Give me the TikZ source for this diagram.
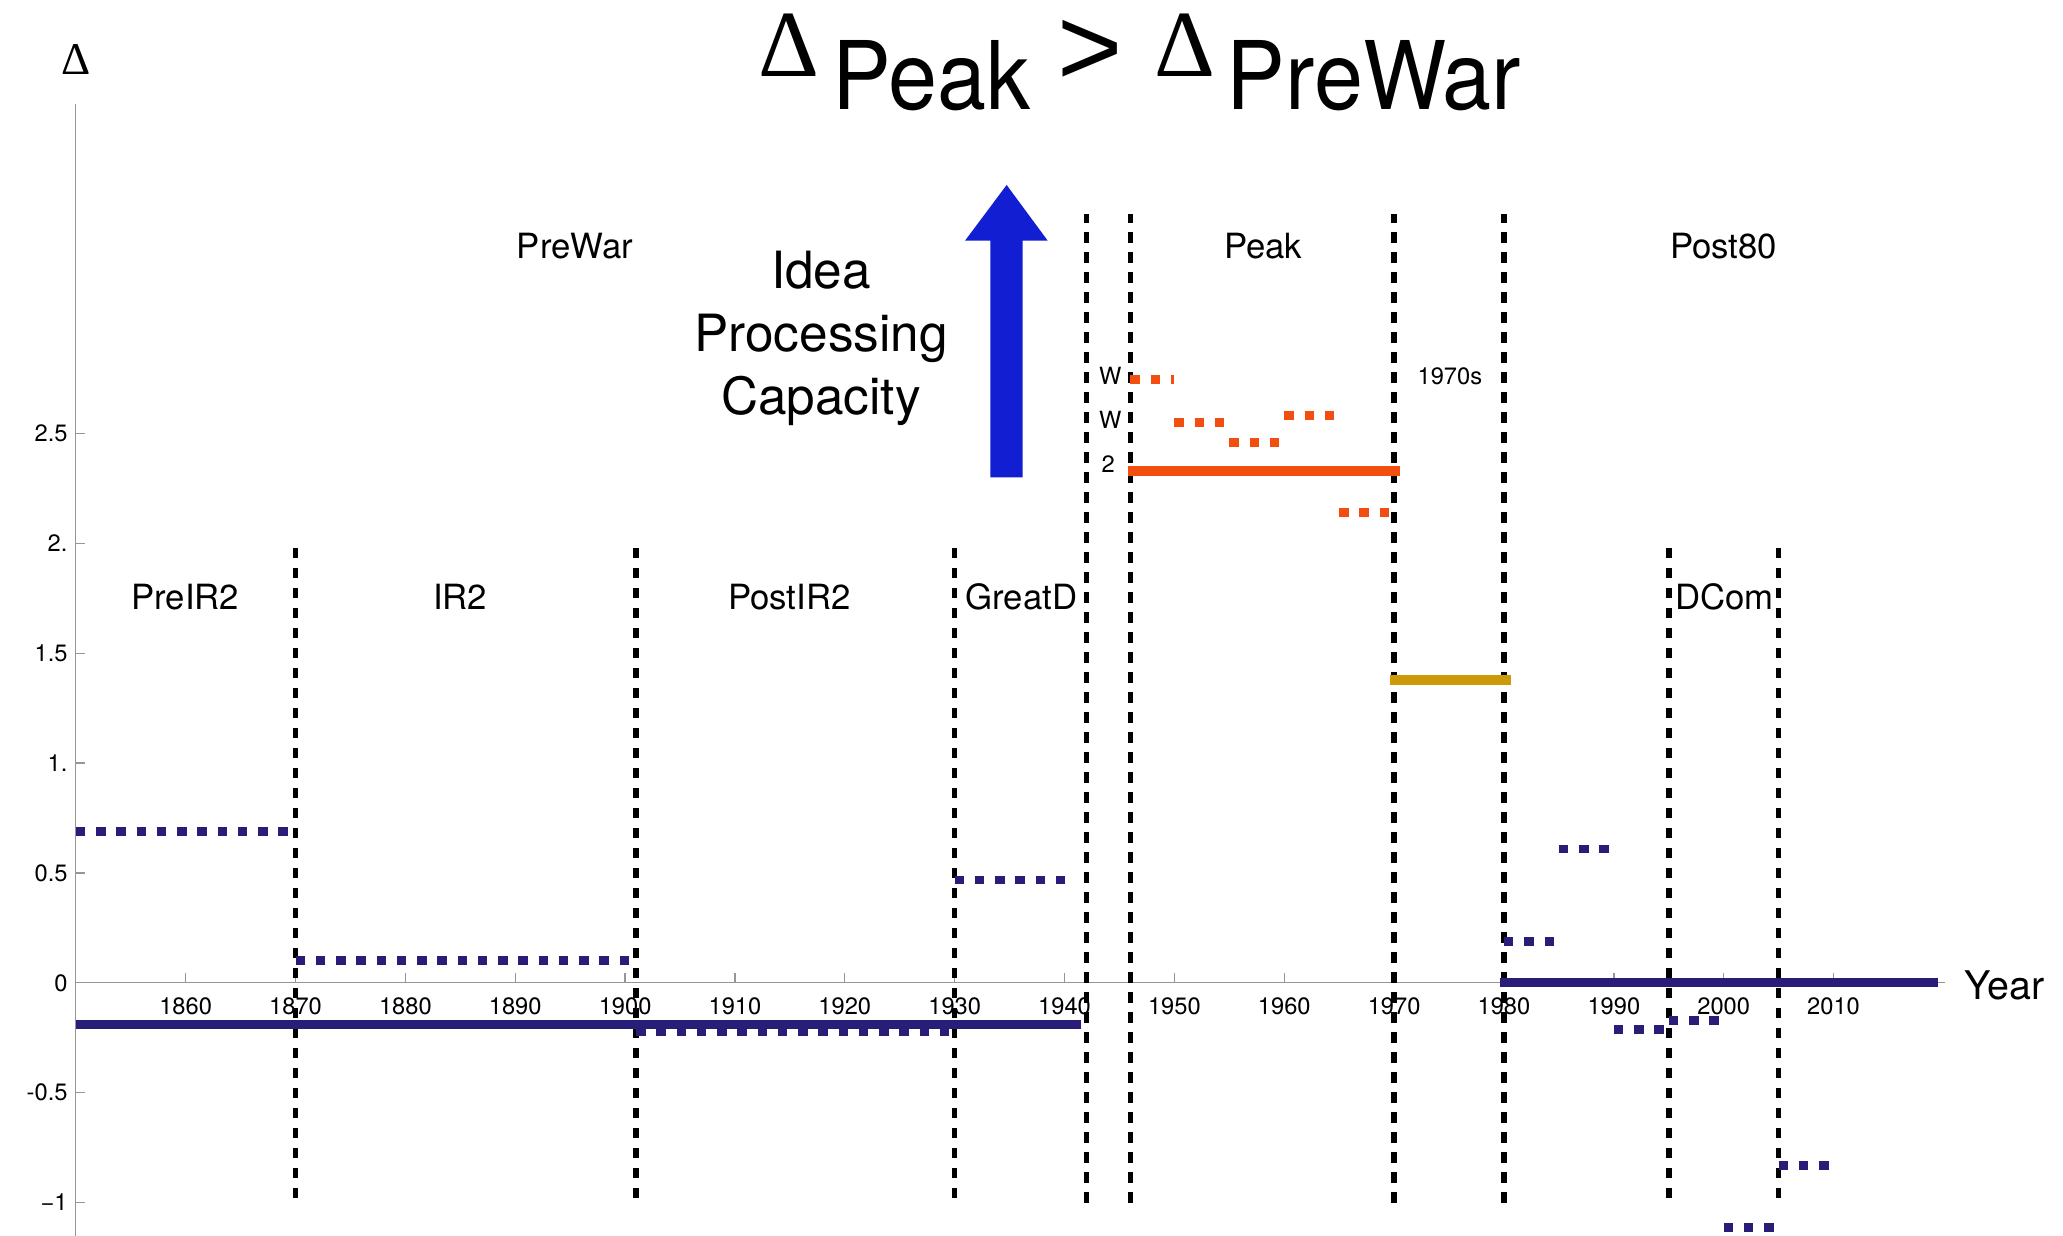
\documentclass[tikz,border=0pt]{standalone}
\usepackage{fontspec}
\setmainfont{TeX Gyre Heros}
\newfontfamily\deltafont{Liberation Serif}
\newfontfamily\gtfont{Liberation Sans}
\usepackage{graphicx}
\definecolor{navy}{RGB}{40,30,120}
\definecolor{orng}{RGB}{242,78,16}
\definecolor{gold}{RGB}{204,153,8}
\definecolor{arrowblue}{RGB}{17,30,210}
\definecolor{axisgray}{RGB}{150,150,150}
\begin{document}
\begin{tikzpicture}[x=1pt,y=-1pt,
  regime/.style={black, line width=4.2pt, dash pattern=on 8pt off 7.2pt},
  dotseg/.style={line width=6.8pt, dash pattern=on 7.2pt off 8.2pt},
  solidseg/.style={line width=7pt},
  axisline/.style={draw=axisgray, line width=1pt},
  ticklab/.style={font=\fontsize{18}{20}\selectfont, inner sep=0pt},
  reglab/.style={font=\fontsize{26.4}{30}\selectfont, inner sep=0pt, anchor=base},
  smalllab/.style={font=\fontsize{18}{20}\selectfont, inner sep=0pt, anchor=base},
  titlelab/.style={font=\fontsize{72}{80}\selectfont, inner sep=0pt, anchor=base},
  deltalab/.style={font=\deltafont\fontsize{72}{80}\selectfont, inner sep=0pt, anchor=base},
  idealab/.style={font=\fontsize{39}{44}\selectfont, inner sep=0pt, anchor=base},
]
\useasboundingbox (0,0) rectangle (1568,939);
\fill[white] (0,0) rectangle (1568,939);

% title
\node[deltalab] (d1) at (599.8,58.3) {Δ};
\node[titlelab] (tpeak) at (707.9,83.6) {\scalebox{0.93}[1]{Peak}};
\node[inner sep=0pt, anchor=center, font=\gtfont\fontsize{85}{90}\selectfont] (tgt) at (828.5,40) {>};
\node[deltalab] (d2) at (900.8,58.3) {Δ};
\node[titlelab] (tprewar) at (1044.2,83.6) {\scalebox{0.93}[1]{PreWar}};

% idea processing capacity
\node[idealab] (idea1) at (624,219) {Idea};
\node[idealab] (idea2) at (624,267.3) {Processing};
\node[idealab] (idea3) at (624,315.4) {Capacity};

% blue arrow
\fill[arrowblue] (752.7,362.8) -- (752.7,182.9) -- (733.5,182.9) -- (765.1,140.6)
  -- (796.3,182.9) -- (777.3,182.9) -- (777.3,362.8) -- cycle;

% axis labels
\node[font=\deltafont\fontsize{34.5}{36}\selectfont, inner sep=0pt, anchor=base] (ylab) at (58,57) {Δ};
\node[font=\fontsize{30}{34}\selectfont, inner sep=0pt, anchor=base west] (xlab) at (1493,759.5) {Year};

% regime labels
\node[reglab] (lprewar) at (437,196.3) {PreWar};
\node[reglab] (lpeak) at (960,196.3) {Peak};
\node[reglab] (lpost80) at (1310,196.3) {Post80};
\node[reglab] (lpreir2) at (140.8,463.1) {PreIR2};
\node[reglab] (lir2) at (349.8,463.1) {IR2};
\node[reglab] (lpostir2) at (600,463.1) {PostIR2};
\node[reglab] (lgreatd) at (776.2,463.1) {GreatD};
\node[reglab] (ldcom) at (1310.8,463.1) {DCom};
\node[smalllab] (l1970s) at (1102,292.6) {1970s};
\node[smalllab] (lw1) at (843.8,291.9) {W};
\node[smalllab] (lw2) at (843.8,325.6) {W};
\node[smalllab] (l2) at (842.2,359.2) {2};

\begin{scope}[shift={(57.6,747)}, x=8.35pt, y=167pt]
  % axes
  \draw[axisline] (0,-1.15) -- (0,4.0);
  \draw[axisline] (0,0) -- (170.1,0);
  \foreach \yr in {1860,1870,...,2010} {
    \pgfmathsetmacro\xx{\yr-1850}
    \draw[axisline] (\xx,0) -- (\xx,0.044);
    \node[ticklab, anchor=base] (xt\yr) at (\xx,-0.142) {\yr};
  }
  \foreach \v in {2.5,2,1.5,1,0.5,-0.5,-1}
    \draw[axisline] (0,\v) -- (0.84,\v);
  \foreach \v/\t [count=\i] in {2.5/2.5, 2/2., 1.5/1.5, 1/1., 0.5/0.5, 0/0, -0.5/-0.5, -1/{−1}}
    \node[ticklab, anchor=east] (yt\i) at (-0.73,\v) {\t};

  % regime boundaries
  \foreach \xx in {20,51,80,145,155}
    \draw[regime] (\xx,1.98) -- (\xx,-1);
  \foreach \xx in {92,96,120,130}
    \draw[regime] (\xx,-1) -- (\xx,3.5);

  % solid segments
  \draw[navy, solidseg] (0,-0.19) -- (91.5,-0.19);
  \draw[navy, solidseg] (129.6,0) -- (169.5,0);
  \draw[orng, solidseg] (95.8,2.329) -- (120.5,2.329);
  \draw[gold, solidseg] (119.6,1.378) -- (130.6,1.378);

  % navy dotted segments
  \draw[navy, dotseg] (0,0.689) -- (20,0.689);
  \draw[navy, dotseg] (20,0.1) -- (50.4,0.1);
  \draw[navy, dotseg] (51,-0.222) -- (79.8,-0.222);
  \draw[navy, dotseg] (80,0.468) -- (90,0.468);
  \draw[navy, dotseg] (130,0.189) -- (135,0.189);
  \draw[navy, dotseg] (135,0.609) -- (140,0.609);
  \draw[navy, dotseg] (140,-0.212) -- (145,-0.212);
  \draw[navy, dotseg] (145,-0.172) -- (150,-0.172);
  \draw[navy, dotseg] (150,-1.113) -- (155,-1.113);
  \draw[navy, dotseg] (155,-0.83) -- (160,-0.83);

  % orange dotted segments
  \draw[orng, dotseg] (96,2.748) -- (100,2.748);
  \draw[orng, dotseg] (100,2.551) -- (104.6,2.551);
  \draw[orng, dotseg] (105,2.46) -- (109.6,2.46);
  \draw[orng, dotseg] (110,2.58) -- (114.6,2.58);
  \draw[orng, dotseg] (115,2.14) -- (119.6,2.14);
\end{scope}
\end{tikzpicture}
\end{document}
